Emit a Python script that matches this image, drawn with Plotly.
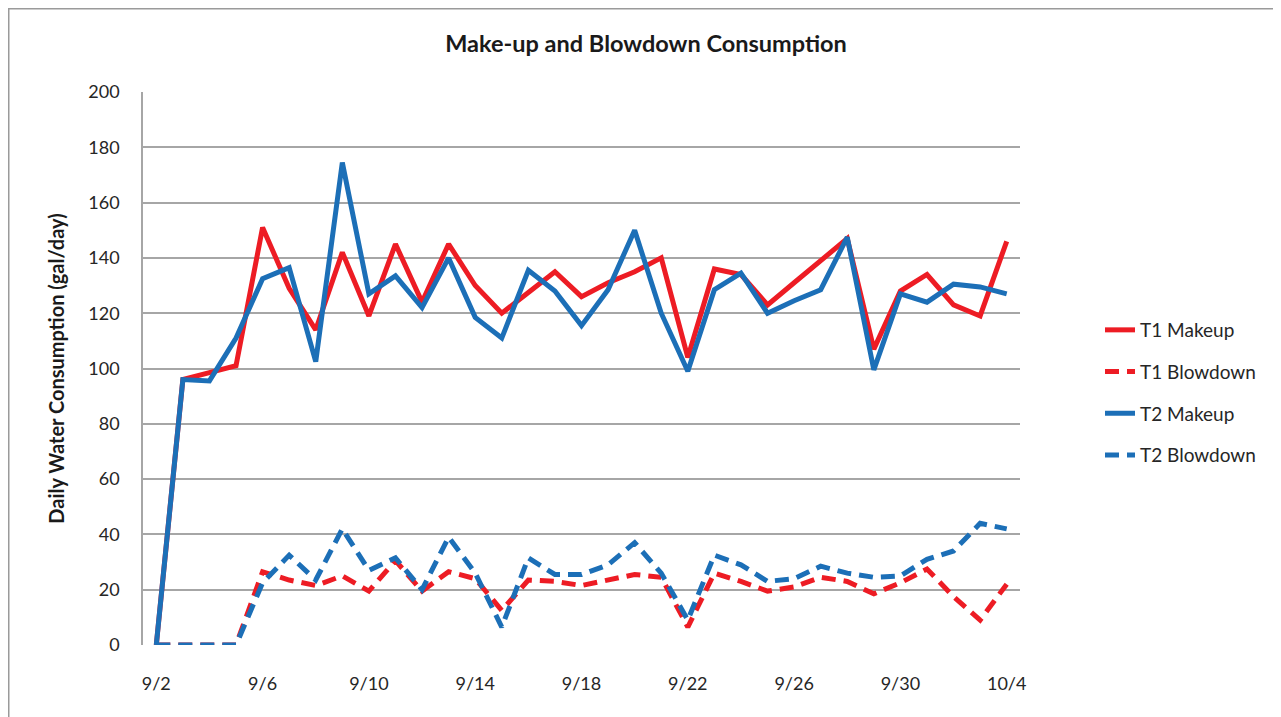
import plotly.graph_objects as go

dates = ["9/2", "9/3", "9/4", "9/5", "9/6", "9/7", "9/8", "9/9", "9/10", "9/11",
         "9/12", "9/13", "9/14", "9/15", "9/16", "9/17", "9/18", "9/19", "9/20",
         "9/21", "9/22", "9/23", "9/24", "9/25", "9/26", "9/27", "9/28", "9/29",
         "9/30", "10/1", "10/2", "10/3", "10/4"]

t1_makeup = [0, 96, 98.5, 101, 151, 129, 114, 142, 119, 145, 124, 145, 130, 120,
             127.5, 135, 126, 131, 135, 140, 104, 136, 134, 123, 131, 139, 147,
             107, 128, 134, 123, 119, 146]
t1_blowdown = [0, 0, 0, 0, 26.5, 23.5, 21.5, 25, 19.5, 30.5, 19.5, 26.5, 24, 12.5,
               23.5, 23, 21.5, 23.5, 25.5, 24.5, 6.5, 26, 23, 19.5, 21, 24.5, 23,
               18.5, 22.5, 27.5, 17.5, 9, 22]
t2_makeup = [0, 96, 95.5, 111, 132.5, 136.5, 102.5, 174.5, 127, 133.5, 122, 140,
             118.5, 111, 135.5, 128, 115.5, 128.5, 150, 120, 99, 128.5, 134.5, 120,
             124.5, 128.5, 147.5, 99.5, 127, 124, 130.5, 129.5, 127]
t2_blowdown = [0, 0, 0, 0, 22.5, 32.5, 23.5, 42, 27, 31.5, 20, 39, 26, 6.5, 31.5,
               25.5, 25.5, 29, 37, 26, 9, 32.5, 29, 23, 24, 28.5, 26, 24.5, 25, 31,
               34, 44, 42]

x_ticks = dates[::4]
y_ticks = [0, 20, 40, 60, 80, 100, 120, 140, 160, 180, 200]

RED = "#ED1C24"
BLUE = "#1C6FB7"
DASH = "14px,8px"
FONT = "Lato, 'Open Sans', sans-serif"

# page body has an 8px margin, so the figure is drawn 8px in from the corner
W, H = 1273, 709
L, T, PW, PH = 135, 84, 877, 553

series = [
    ("T1 Makeup", t1_makeup, RED, "solid"),
    ("T1 Blowdown", t1_blowdown, RED, DASH),
    ("T2 Makeup", t2_makeup, BLUE, "solid"),
    ("T2 Blowdown", t2_blowdown, BLUE, DASH),
]

fig = go.Figure()
for name, vals, color, dash in series:
    fig.add_trace(go.Scatter(
        x=dates, y=vals, name=name, mode="lines", legendgroup=name,
        line=dict(color=color, width=5, dash=dash),
    ))

fig.update_layout(
    width=W, height=H,
    margin=dict(l=L, r=W - L - PW, t=T, b=H - T - PH),
    paper_bgcolor="white", plot_bgcolor="white",
    font=dict(family=FONT, size=18, color="#262626"),
    title=dict(text="<b>Make-up and Blowdown Consumption</b>",
               x=638 / W, xref="container", xanchor="center",
               y=1 - 36 / H, yref="container", yanchor="middle",
               font=dict(size=23.5, color="#1a1a1a")),
    showlegend=True,
    legend=dict(x=(1092 - L) / PW, xanchor="left", y=0.4566, yanchor="middle",
                tracegroupgap=14, font=dict(size=19, color="#262626"),
                bgcolor="rgba(0,0,0,0)"),
    xaxis=dict(type="category", categoryorder="array", categoryarray=dates,
               range=[-0.5, len(dates) - 0.5],
               tickmode="array", tickvals=x_ticks, ticktext=x_ticks,
               showgrid=False, zeroline=False, showline=False,
               ticks="outside", ticklen=22, tickcolor="rgba(0,0,0,0)",
               tickfont=dict(size=18)),
    yaxis=dict(range=[0, 200], tickmode="array", tickvals=y_ticks,
               showgrid=True, gridcolor="#A6A6A6", gridwidth=1.5,
               zeroline=False, showline=True, linecolor="#A6A6A6", linewidth=1.5,
               ticks="", ticklabelstandoff=18, tickfont=dict(size=18),
               title=dict(text="<b>Daily Water Consumption (gal/day)</b>",
                          font=dict(size=20, color="#1a1a1a"), standoff=18)),
    shapes=[dict(type="rect", xref="paper", yref="paper",
                 x0=(0.75 - L) / PW, x1=(W + 20 - L) / PW,
                 y0=(T + PH - (H + 20)) / PH, y1=(T + PH - 0.75) / PH,
                 line=dict(color="#9a9a9a", width=1.5), layer="below")],
)

fig.write_html("out.html")
